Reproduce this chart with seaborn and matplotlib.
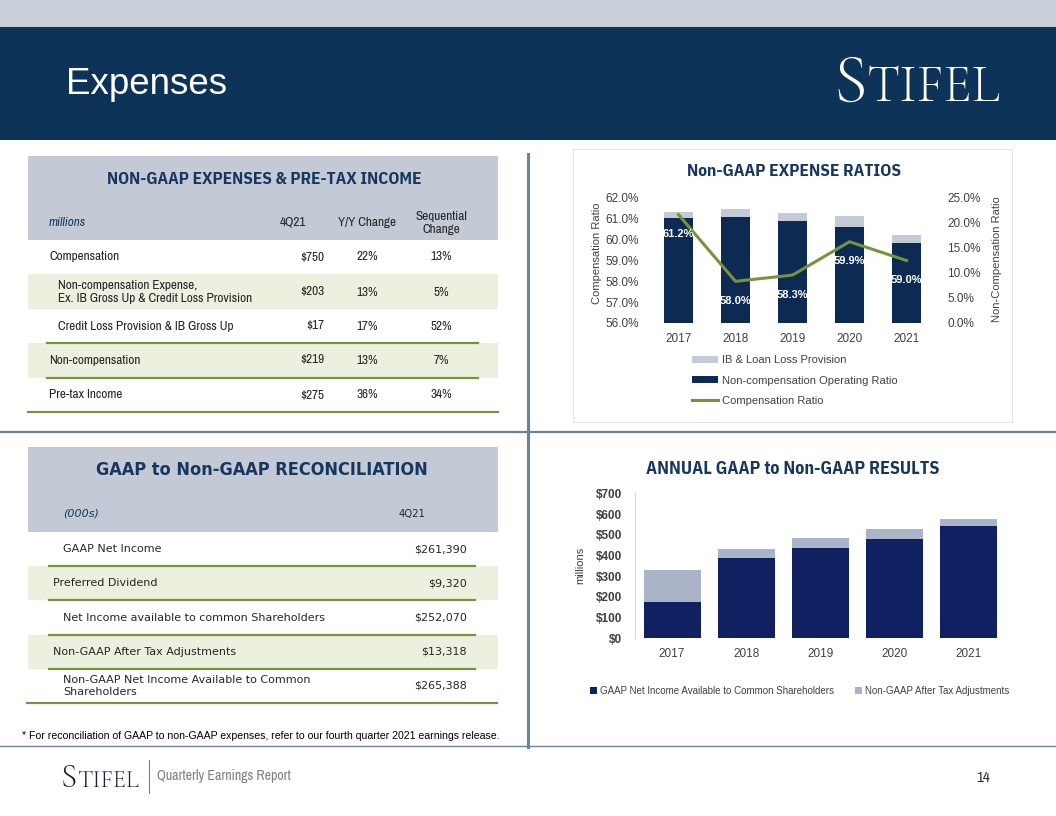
import numpy as np
import pandas as pd
import seaborn as sns
import matplotlib
matplotlib.use('Agg')
import matplotlib.pyplot as plt
import matplotlib.ticker as mticker
from matplotlib.patches import Rectangle, Patch
from matplotlib.lines import Line2D

# ---- data ----
years = ['2017', '2018', '2019', '2020', '2021']

# Non-GAAP expense ratios (%)
comp_ratio = [61.2, 58.0, 58.3, 59.9, 59.0]
noncomp_ratio = [21.0, 21.1, 20.4, 19.1, 15.9]
ib_loan_prov = [1.1, 1.7, 1.6, 2.3, 1.6]

# annual GAAP to non-GAAP results ($ millions)
gaap_ni = [177, 387, 437, 479, 542]
nongaap_adj = [153, 45, 46, 50, 36]

# table: non-GAAP expenses & pre-tax income
exp_labels = ['Compensation',
              'Non-compensation Expense,\nEx. IB Gross Up & Credit Loss Provision',
              'Credit Loss Provision & IB Gross Up',
              'Non-compensation',
              'Pre-tax Income']
exp_4q21 = ['$750', '$203', '$17', '$219', '$275']
exp_yy = ['22%', '13%', '17%', '13%', '36%']
exp_seq = ['13%', '5%', '52%', '7%', '34%']

# table: GAAP to non-GAAP reconciliation (000s)
rec_labels = ['GAAP Net Income',
              'Preferred Dividend',
              'Net Income available to common Shareholders',
              'Non-GAAP After Tax Adjustments',
              'Non-GAAP Net Income Available to Common\nShareholders']
rec_4q21 = ['$261,390', '$9,320', '$252,070', '$13,318', '$265,388']

# ---- styling ----
NAVY = '#0e3359'
DARK = '#0d2b52'
LIGHT = '#c5cbd6'
DARK2 = '#0f2160'
LIGHT2 = '#a9b4c9'
GREEN = '#77933c'
HEAD_BG = '#c3cad6'
ROW_BG = '#ebf1de'
TXT = '#262626'
AXTXT = '#404040'
TITLE = '#17375e'
RULE = '#6c819d'

ARIAL = ['Liberation Sans', 'DejaVu Sans']
NARROW = ['Archivo Narrow', 'Liberation Sans', 'DejaVu Sans']
BOLDN = ['IBM Plex Sans Condensed', 'DejaVu Sans']
SERIF = ['Cormorant Garamond', 'Liberation Serif', 'DejaVu Serif']

W, H = 1056, 816
fig = plt.figure(figsize=(W / 100, H / 100), dpi=100)


def rect(x0, y0, x1, y1):
    # pixel box (top-left origin) -> figure fraction
    return [x0 / W, 1 - y1 / H, (x1 - x0) / W, (y1 - y0) / H]


bg = fig.add_axes([0, 0, 1, 1], zorder=0)
bg.set_xlim(0, W)
bg.set_ylim(H, 0)
bg.axis('off')

# ---- slide header / footer ----
bg.add_patch(Rectangle((0, 0), W, 27, color='#c9cfd9', lw=0))
bg.add_patch(Rectangle((0, 27), W, 113, color=NAVY, lw=0))
bg.text(66, 84, 'Expenses', color='white', fontsize=26.5, family=ARIAL, va='center', ha='left')
bg.text(850, 101, 'S', color='white', fontsize=50, family=SERIF, ha='center', va='baseline')
bg.text(867, 101, 'TIFEL', color='white', fontsize=38, family=SERIF, ha='left', va='baseline')

bg.text(69, 787, 'S', color='#1b1b3a', fontsize=24, family=SERIF, ha='center', va='baseline')
bg.text(77, 787, 'TIFEL', color='#1b1b3a', fontsize=17.5, family=SERIF, ha='left', va='baseline')
bg.plot([149, 149], [760, 793], color='#808080', lw=0.8)
bg.text(157, 776, 'Quarterly Earnings Report', color='#7f7f7f', fontsize=10, family=NARROW, va='center')
bg.text(983, 778, '14', color='#333333', fontsize=11, family=NARROW, va='center', ha='center')

# dividers
bg.plot([0, W], [432, 432], color=RULE, lw=1.6)
bg.plot([0, W], [746, 746], color=RULE, lw=1.0)
bg.plot([528, 528], [154, 747], color=RULE, lw=2.2)
bg.add_patch(Rectangle((573, 149), 439, 273, fill=False, ec='#e4e4e4', lw=0.8))

# ---- table 1: non-GAAP expenses ----
bg.add_patch(Rectangle((28, 156), 470, 84, color=HEAD_BG, lw=0))
bg.text(264, 180, 'NON-GAAP EXPENSES & PRE-TAX INCOME', color=TITLE, fontsize=12.4,
        family=BOLDN, fontweight='bold', ha='center', va='center')
bg.text(49, 222, 'millions', color=TITLE, fontsize=9.5, family=NARROW, style='italic', va='center')
bg.text(293, 222, '4Q21', color=TXT, fontsize=9.5, family=NARROW, ha='center', va='center')
bg.text(367, 222, 'Y/Y Change', color=TXT, fontsize=9.5, family=NARROW, ha='center', va='center')
bg.text(441, 223, 'Sequential\nChange', color=TXT, fontsize=9.5, family=NARROW, ha='center',
        va='center', linespacing=1.3)

exp_y = [257, 292, 326, 360, 395]
exp_x = [49, 58, 58, 49, 49]
for top in (274, 343):
    bg.add_patch(Rectangle((28, top), 470, 35, color=ROW_BG, lw=0))
for lab, v1, v2, v3, y, x in zip(exp_labels, exp_4q21, exp_yy, exp_seq, exp_y, exp_x):
    bg.text(x, y, lab, color=TXT, fontsize=9.5, family=NARROW, va='center', linespacing=1.3)
    bg.text(324, y, v1, color=TXT, fontsize=9.5, family=NARROW, va='center', ha='right')
    bg.text(367, y, v2, color=TXT, fontsize=9.5, family=NARROW, va='center', ha='center')
    bg.text(441, y, v3, color=TXT, fontsize=9.5, family=NARROW, va='center', ha='center')
bg.plot([47, 478], [343, 343], color=GREEN, lw=1.6)
bg.plot([47, 478], [378, 378], color=GREEN, lw=1.6)
bg.plot([28, 498], [412, 412], color=GREEN, lw=1.6)

# ---- table 2: reconciliation ----
bg.add_patch(Rectangle((28, 447), 470, 85, color=HEAD_BG, lw=0))
bg.text(262, 470, 'GAAP to Non-GAAP RECONCILIATION', color=TITLE, fontsize=13, family='DejaVu Sans',
        fontstretch='condensed', fontweight='bold', ha='center', va='center')
bg.text(63, 514, '(000s)', color=TITLE, fontsize=8, family='DejaVu Sans', style='italic', va='center')
bg.text(412, 514, '4Q21', color=TXT, fontsize=8, family='DejaVu Sans', fontstretch='condensed',
        ha='center', va='center')

rec_y = [549, 583, 618, 652, 686]
rec_x = [63, 53, 63, 53, 63]
for top in (566, 635):
    bg.add_patch(Rectangle((28, top), 470, 34, color=ROW_BG, lw=0))
for lab, v, y, x in zip(rec_labels, rec_4q21, rec_y, rec_x):
    bg.text(x, y, lab, color=TXT, fontsize=8, family='DejaVu Sans', va='center', linespacing=1.35)
    bg.text(467, y, v, color=TXT, fontsize=8, family='DejaVu Sans', va='center', ha='right')
for yl in (566, 600, 635, 669):
    bg.plot([49, 475], [yl, yl], color=GREEN, lw=1.6)
bg.plot([27, 497], [703, 703], color=GREEN, lw=1.6)

bg.text(22, 736, '* For reconciliation of GAAP to non-GAAP expenses, refer to our fourth quarter 2021 earnings release.',
        color='black', fontsize=7.6, family=ARIAL, va='center')

# ---- chart 1: non-GAAP expense ratios ----
bg.text(794, 171, 'Non-GAAP EXPENSE RATIOS', color=TITLE, fontsize=12.5, family=BOLDN,
        fontweight='bold', ha='center', va='center')

df_ratio = pd.DataFrame({'year': years, 'noncomp': noncomp_ratio, 'ib': ib_loan_prov, 'comp': comp_ratio})
df_ratio['total'] = df_ratio['noncomp'] + df_ratio['ib']
df_ratio['pos'] = np.arange(len(years))

axb = fig.add_axes(rect(650, 198, 935, 323), zorder=2)
axb.patch.set_visible(False)
sns.barplot(data=df_ratio, x='year', y='total', color=LIGHT, width=0.5, saturation=1, ax=axb)
sns.barplot(data=df_ratio, x='year', y='noncomp', color=DARK, width=0.5, saturation=1, ax=axb)

axl = axb.twinx()
sns.lineplot(data=df_ratio, x='pos', y='comp', color=GREEN, linewidth=2.2, ax=axl, legend=False)
for p, v in zip(df_ratio['pos'], comp_ratio):
    axl.annotate(f'{v:.1f}%', (p, v), xytext=(0, -14), textcoords='offset points', ha='center',
                 va='center', color='white', fontweight='bold', fontsize=8, family=ARIAL)

axb.set_xlim(-0.5, 4.5)
axb.set_ylim(0, 25)
axb.set_yticks(np.arange(0, 26, 5))
axb.yaxis.set_major_formatter(mticker.FuncFormatter(lambda x, p: f'{x:.1f}%'))
axb.yaxis.tick_right()
axb.yaxis.set_label_position('right')
axb.set_ylabel('Non-Compensation Ratio', fontsize=8, color=AXTXT, family=ARIAL)
axb.yaxis.set_label_coords(1.2, 0.51)
axb.set_xlabel('')

axl.set_ylim(56, 62)
axl.set_yticks(np.arange(56, 62.1, 1))
axl.yaxis.set_major_formatter(mticker.FuncFormatter(lambda x, p: f'{x:.1f}%'))
axl.yaxis.tick_left()
axl.yaxis.set_label_position('left')
axl.set_ylabel('Compensation Ratio', fontsize=8, color=AXTXT, family=ARIAL)
axl.yaxis.set_label_coords(-0.168, 0.56)
axl.set_xlim(-0.5, 4.5)

for a in (axb, axl):
    for s in a.spines.values():
        s.set_visible(False)
    a.tick_params(length=0, labelsize=8.5, labelcolor=AXTXT)
axb.tick_params(axis='y', pad=9)
axl.tick_params(axis='y', pad=8)
axb.tick_params(axis='x', pad=7)
for t in axb.get_xticklabels() + axb.get_yticklabels() + axl.get_yticklabels():
    t.set_family(ARIAL)

handles = [Patch(facecolor=LIGHT), Patch(facecolor=DARK), Line2D([], [], color=GREEN, lw=2.2)]
labels = ['IB & Loan Loss Provision', 'Non-compensation Operating Ratio', 'Compensation Ratio']
leg = axb.legend(handles, labels, loc='upper left', bbox_to_anchor=(692 / W, 1 - 355 / H),
                 bbox_transform=fig.transFigure, frameon=False, handlelength=2.3,
                 handleheight=0.6, handletextpad=0.4, labelspacing=0.95, borderpad=0, borderaxespad=0,
                 prop={'family': ARIAL, 'size': 8})
for t in leg.get_texts():
    t.set_color(AXTXT)

# ---- chart 2: annual GAAP to non-GAAP results ----
bg.text(793, 469, 'ANNUAL GAAP to Non-GAAP RESULTS', color=TITLE, fontsize=13, family=BOLDN,
        fontweight='bold', ha='center', va='center')

df_ann = pd.DataFrame({'year': years, 'gaap': gaap_ni, 'adj': nongaap_adj})
df_ann['total'] = df_ann['gaap'] + df_ann['adj']

ax3 = fig.add_axes(rect(635, 493.3, 1006, 638.3), zorder=2)
ax3.patch.set_visible(False)
sns.barplot(data=df_ann, x='year', y='total', color=LIGHT2, width=0.77, saturation=1, ax=ax3)
sns.barplot(data=df_ann, x='year', y='gaap', color=DARK2, width=0.77, saturation=1, ax=ax3)
ax3.set_ylim(0, 700)
ax3.set_yticks(np.arange(0, 701, 100))
ax3.yaxis.set_major_formatter(mticker.FuncFormatter(lambda x, p: f'${x:,.0f}'))
ax3.set_xlabel('')
ax3.set_ylabel('millions', fontsize=8, color=AXTXT, family=ARIAL)
ax3.yaxis.set_label_coords(-0.135, 0.505)
for side in ('top', 'right', 'bottom'):
    ax3.spines[side].set_visible(False)
ax3.spines['left'].set_color('#d9d9d9')
ax3.tick_params(length=0, labelsize=8.5, labelcolor=AXTXT)
ax3.tick_params(axis='y', pad=9)
ax3.tick_params(axis='x', pad=7)
for t in ax3.get_yticklabels():
    t.set_family(ARIAL)
    t.set_fontweight('bold')
for t in ax3.get_xticklabels():
    t.set_family(ARIAL)

leg2 = ax3.legend([Patch(facecolor=DARK2), Patch(facecolor=LIGHT2)],
                  ['GAAP Net Income Available to Common Shareholders', 'Non-GAAP After Tax Adjustments'],
                  ncol=2, loc='center left', bbox_to_anchor=(590 / W, 1 - 691 / H),
                  bbox_transform=fig.transFigure, frameon=False, handlelength=0.7, handleheight=0.7,
                  handletextpad=0.3, columnspacing=2.2, borderpad=0, borderaxespad=0,
                  prop={'family': ARIAL, 'size': 7})
for t in leg2.get_texts():
    t.set_color(AXTXT)

fig.savefig('out.png', dpi=100)
